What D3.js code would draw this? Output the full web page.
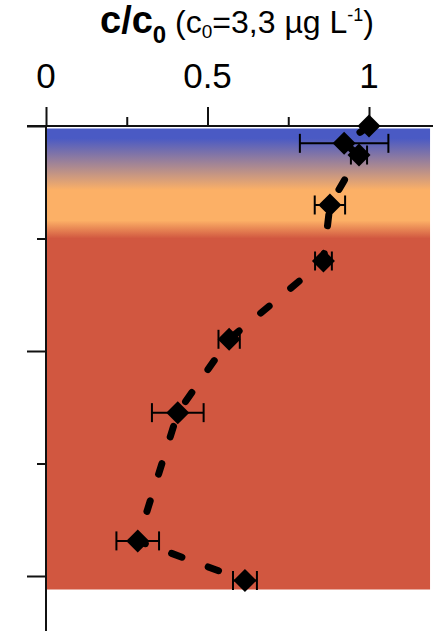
<!DOCTYPE html>
<html>
<head>
<meta charset="utf-8">
<script src="https://cdn.jsdelivr.net/npm/d3@7"></script>
<style>
  html, body { margin: 0; padding: 0; background: #fff; }
  svg { display: block; }
  text { font-family: "Liberation Sans", Arial, sans-serif; fill: #000; }
</style>
</head>
<body>
<script>
// Depth profile of relative concentration c/c0
const depth = [0, 0.77, 1.29, 3.51, 6.0, 9.48, 12.74, 18.44, 20.2];
const ratio = [1.0, 0.923, 0.969, 0.879, 0.859, 0.567, 0.408, 0.284, 0.616];
const ratioErr = [0, 0.137, 0.025, 0.047, 0.026, 0.033, 0.08, 0.066, 0.037];

const xTicks = [0, 0.25, 0.5, 0.75, 1];
const xTickLabels = ["0", "", "0.5", "", "1"];
const yTicks = [0, 5, 10, 15, 20];

// Background layers (depth, colour) for the vertical gradient
const layerDepth = [0, 0.55, 2.85, 4.2, 5.0, 20.6];
const layerColor = ["#4a5ac4", "#4a5ac4", "#fcb066", "#fcb066", "#d15740", "#d15740"];

const W = 433, H = 634;
const x = d3.scaleLinear().domain([0, 1]).range([46, 369]);
const y = d3.scaleLinear().domain([0, 10]).range([126, 351]);

const svg = d3.select("body").append("svg").attr("width", W).attr("height", H);

// gradient background
const grad = svg.append("defs").append("linearGradient")
  .attr("id", "soil").attr("gradientUnits", "userSpaceOnUse")
  .attr("x1", 0).attr("x2", 0)
  .attr("y1", y(layerDepth[0])).attr("y2", y(layerDepth[layerDepth.length - 1]));
const span = layerDepth[layerDepth.length - 1] - layerDepth[0];
grad.selectAll("stop").data(layerDepth).join("stop")
  .attr("offset", d => (d - layerDepth[0]) / span)
  .attr("stop-color", (d, i) => layerColor[i]);

svg.append("rect")
  .attr("x", x(0) + 1).attr("y", y(layerDepth[0]) + 2.5)
  .attr("width", x(1.189) - x(0) - 1)
  .attr("height", y(layerDepth[layerDepth.length - 1]) - y(layerDepth[0]) - 2.5)
  .attr("fill", "url(#soil)");

// x axis on top
const xAxis = svg.append("g").attr("transform", `translate(0,${y(0)})`)
  .call(d3.axisTop(x).tickValues(xTicks).tickFormat("").tickSizeOuter(0)
    .tickSize(19));
xAxis.select(".domain").remove();
xAxis.selectAll(".tick line")
  .attr("y2", d => (xTickLabels[xTicks.indexOf(d)] ? -19 : -9))
  .attr("stroke-width", 2).attr("stroke", "#111");
svg.append("line")
  .attr("x1", x(0) - 19).attr("x2", W + 2)
  .attr("y1", y(0)).attr("y2", y(0))
  .attr("stroke", "#111").attr("stroke-width", 2);

svg.append("g").selectAll("text").data(xTicks.filter((d, i) => xTickLabels[i]))
  .join("text")
  .attr("x", d => x(d)).attr("y", 88)
  .attr("text-anchor", "middle")
  .attr("font-size", 35)
  .text(d => xTickLabels[xTicks.indexOf(d)]);

// y axis on the left
const yAxis = svg.append("g").attr("transform", `translate(${x(0)},0)`)
  .call(d3.axisLeft(y).tickValues(yTicks).tickFormat("").tickSizeOuter(0));
yAxis.select(".domain").remove();
yAxis.selectAll(".tick line")
  .attr("x2", d => (d % 10 === 0 ? -19 : -9))
  .attr("stroke-width", 2).attr("stroke", "#111");
svg.append("line")
  .attr("x1", x(0)).attr("x2", x(0))
  .attr("y1", y(0) - 1).attr("y2", 631)
  .attr("stroke", "#111").attr("stroke-width", 2);

// title
const title = svg.append("text").attr("x", 100).attr("y", 33);
title.append("tspan").attr("font-weight", "bold").attr("font-size", 38).text("c/c");
title.append("tspan").attr("font-weight", "bold").attr("font-size", 24).attr("dy", 10).text("0");
title.append("tspan").attr("font-size", 32).attr("dy", -10).text(" (c");
title.append("tspan").attr("font-size", 19).attr("dy", 5).text("0");
title.append("tspan").attr("font-size", 32).attr("dy", -5).text("=3,3 µg L");
title.append("tspan").attr("font-size", 18).attr("dy", -12).text("-1");
title.append("tspan").attr("font-size", 32).attr("dy", 12).text(")");

// data
const pts = depth.map((d, i) => ({ d, r: ratio[i], e: ratioErr[i] }));

svg.append("path")
  .datum(pts)
  .attr("fill", "none").attr("stroke", "#000")
  .attr("stroke-width", 7).attr("stroke-linecap", "round")
  .attr("stroke-dasharray", "11 28")
  .attr("d", d3.line().x(p => x(p.r)).y(p => y(p.d)));

const eb = svg.append("g").attr("stroke", "#000").attr("stroke-width", 2);
pts.filter(p => p.e > 0).forEach(p => {
  const cy = y(p.d);
  eb.append("line").attr("x1", x(p.r - p.e)).attr("x2", x(p.r + p.e)).attr("y1", cy).attr("y2", cy);
  eb.append("line").attr("x1", x(p.r - p.e)).attr("x2", x(p.r - p.e)).attr("y1", cy - 9.5).attr("y2", cy + 9.5);
  eb.append("line").attr("x1", x(p.r + p.e)).attr("x2", x(p.r + p.e)).attr("y1", cy - 9.5).attr("y2", cy + 9.5);
});

svg.append("g").selectAll("path").data(pts).join("path")
  .attr("transform", p => `translate(${x(p.r)},${y(p.d)}) rotate(45)`)
  .attr("d", d3.symbol(d3.symbolSquare, 265))
  .attr("fill", "#000");
</script>
</body>
</html>
